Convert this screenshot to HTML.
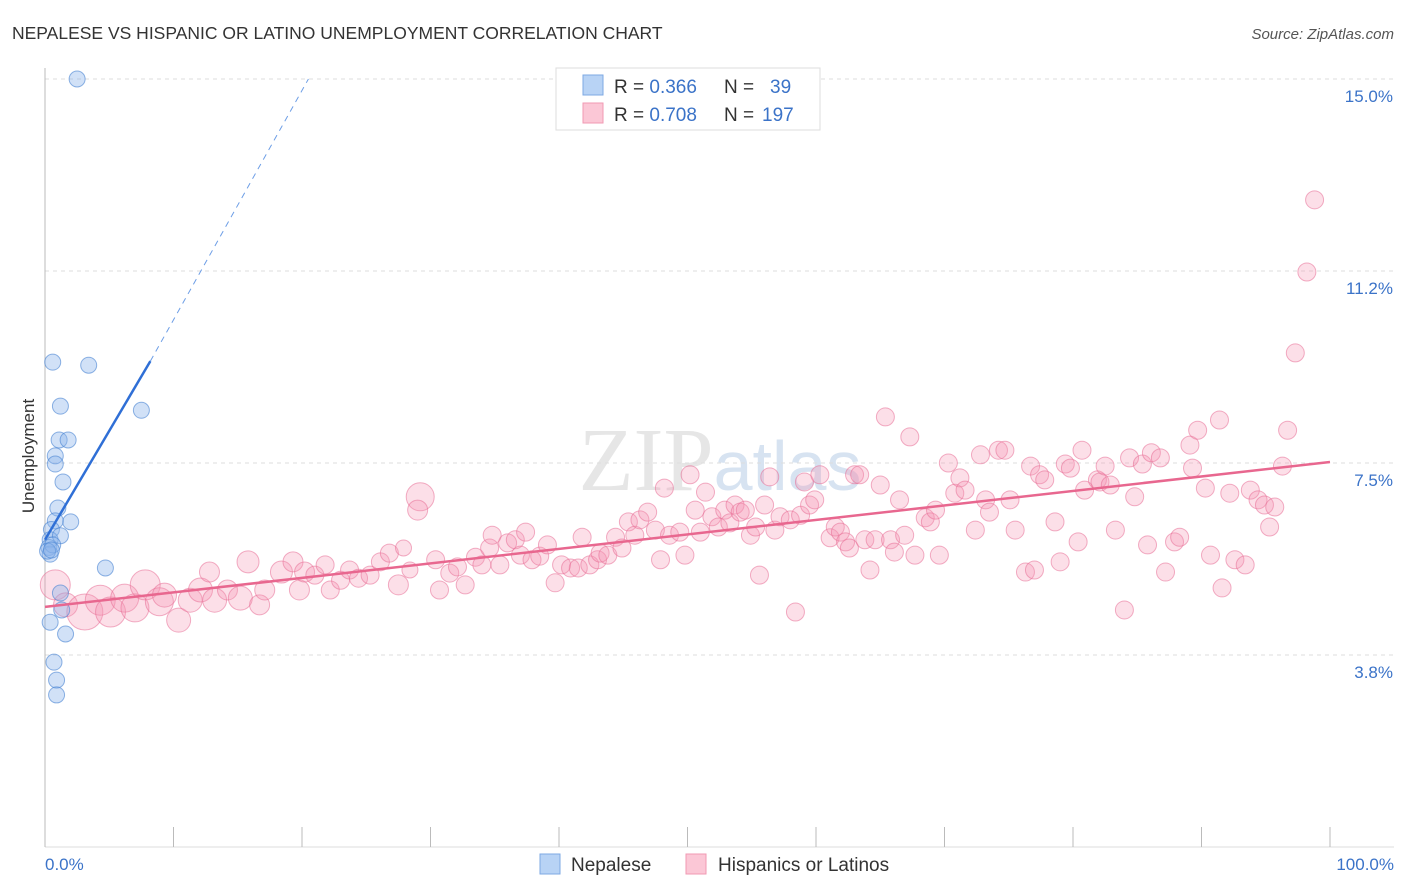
<!DOCTYPE html>
<html><head><meta charset="utf-8"><style>
body{margin:0;background:#fff;font-family:"Liberation Sans",sans-serif;}
svg{display:block}
</style></head><body>
<svg id="chart" width="1406" height="892" xmlns="http://www.w3.org/2000/svg">
<text x="12" y="39" font-size="17.5" fill="#333">NEPALESE VS HISPANIC OR LATINO UNEMPLOYMENT CORRELATION CHART</text>
<text x="1394" y="39" font-size="15" fill="#555" text-anchor="end" font-style="italic">Source: ZipAtlas.com</text>
<text x="720" y="490" font-size="90" fill="#e6e6e6" text-anchor="middle" font-family="Liberation Serif,serif">ZIP<tspan fill="#d7e3f1" font-family="Liberation Sans,sans-serif" font-size="70">atlas</tspan></text>
<g id="grid"></g>
<g id="axes"></g>
<g id="pts"></g>
<g id="lines"></g>
<text transform="translate(34,456) rotate(-90)" font-size="17" fill="#333" text-anchor="middle">Unemployment</text>
<text x="45" y="870" font-size="17" fill="#3b73c8">0.0%</text>
<text x="1394" y="870" font-size="17" fill="#3b73c8" text-anchor="end">100.0%</text>
<g>
<rect x="556" y="68" width="264" height="62" fill="#fff" stroke="#ddd"/>
<rect x="583" y="75" width="20" height="20" fill="#b8d3f5" stroke="#7ea8e3"/>
<rect x="583" y="103" width="20" height="20" fill="#fbc7d6" stroke="#f09ab3"/>
<text x="614" y="93" font-size="19" fill="#333">R = <tspan fill="#3b73c8">0.366</tspan><tspan x="724">N = </tspan><tspan x="770" fill="#3b73c8">39</tspan></text>
<text x="614" y="121" font-size="19" fill="#333">R = <tspan fill="#3b73c8">0.708</tspan><tspan x="724">N = </tspan><tspan x="762" fill="#3b73c8">197</tspan></text>
</g>
<g>
<rect x="540" y="854" width="20" height="20" fill="#b8d3f5" stroke="#7ea8e3"/>
<text x="571" y="871" font-size="19" fill="#333">Nepalese</text>
<rect x="686" y="854" width="20" height="20" fill="#fbc7d6" stroke="#f09ab3"/>
<text x="718" y="871" font-size="19" fill="#333">Hispanics or Latinos</text>
</g>
</svg>
<script>
const yTicks=[15.0,11.25,7.5,3.75];
const yTickLabels=["15.0%","11.2%","7.5%","3.8%"];
const xTicks=[0,10,20,30,40,50,60,70,80,90,100];
const nepX=[2.5,0.6,3.4,1.2,7.5,1.1,1.8,0.8,0.8,1.4,1.0,2.0,0.8,0.5,0.4,0.3,0.4,1.2,0.6,0.2,0.5,4.7,1.2,1.3,0.4,1.6,0.7,0.9,0.9];
const nepY=[15.0,9.47,9.41,8.61,8.53,7.95,7.95,7.64,7.48,7.13,6.62,6.35,6.37,6.2,6.0,5.85,5.72,6.08,5.9,5.78,5.8,5.45,4.96,4.63,4.39,4.16,3.61,3.26,2.97];
const hisX=[0.8,1.6,3.1,4.3,5.1,6.2,7.0,7.8,8.9,9.3,10.4,11.3,12.1,12.8,13.2,14.2,15.2,15.8,16.7,17.1,18.4,19.3,19.8,20.2,21.0,21.8,22.2,23.0,23.7,24.4,25.3,26.1,26.8,27.5,27.9,28.4,29.2,29.0,30.4,30.7,31.5,32.1,32.7,33.5,34.0,34.6,34.8,35.4,36.0,36.6,37.0,37.4,37.9,38.5,39.1,39.7,40.2,40.9,41.5,41.8,42.4,43.0,43.2,43.8,44.4,44.9,45.4,45.9,46.3,46.9,47.5,47.9,48.2,48.6,49.4,49.8,50.2,50.6,51.0,51.4,51.9,52.4,52.9,53.3,53.7,54.1,54.5,54.9,55.3,55.6,56.0,56.4,56.8,57.2,58.0,58.4,58.8,59.1,59.5,59.9,60.3,61.1,61.5,61.9,62.3,62.6,63.0,63.4,63.8,64.2,64.6,65.0,65.4,65.8,66.1,66.5,66.9,67.3,67.7,68.5,68.9,69.3,69.6,70.3,70.8,71.2,71.6,72.4,72.8,73.2,73.5,74.2,74.7,75.1,75.5,76.3,76.7,77.0,77.4,77.8,78.6,79.0,79.4,79.8,80.4,80.7,80.9,81.9,82.1,82.5,82.9,83.3,84.0,84.4,84.8,85.4,85.8,86.1,86.8,87.2,87.9,88.3,89.1,89.3,89.7,90.3,90.7,91.4,91.6,92.2,92.6,93.4,93.8,94.4,94.9,95.3,95.7,96.3,96.7,97.3,98.2,98.8];
const hisY=[5.12,4.73,4.59,4.82,4.59,4.86,4.67,5.12,4.79,4.92,4.43,4.82,5.02,5.37,4.82,5.02,4.86,5.57,4.73,5.02,5.37,5.57,5.02,5.37,5.31,5.51,5.02,5.21,5.41,5.25,5.31,5.57,5.74,5.12,5.84,5.41,6.84,6.58,5.61,5.02,5.35,5.47,5.12,5.66,5.51,5.84,6.09,5.51,5.94,6.0,5.70,6.15,5.61,5.68,5.90,5.16,5.51,5.45,5.45,6.05,5.51,5.61,5.74,5.70,6.05,5.84,6.35,6.09,6.39,6.54,6.19,5.61,7.01,6.09,6.15,5.70,7.27,6.58,6.15,6.93,6.45,6.25,6.58,6.33,6.68,6.54,6.58,6.09,6.25,5.31,6.68,7.23,6.19,6.45,6.39,4.59,6.48,7.13,6.68,6.78,7.27,6.04,6.25,6.15,5.96,5.84,7.27,7.27,6.0,5.41,6.0,7.07,8.40,6.0,5.76,6.78,6.09,8.01,5.70,6.43,6.35,6.58,5.70,7.50,6.91,7.21,6.97,6.19,7.66,6.78,6.54,7.75,7.75,6.78,6.19,5.37,7.44,5.41,7.27,7.17,6.35,5.57,7.48,7.40,5.96,7.75,6.97,7.17,7.13,7.44,7.07,6.19,4.63,7.60,6.84,7.48,5.90,7.70,7.60,5.37,5.96,6.05,7.85,7.40,8.14,7.01,5.70,8.34,5.06,6.91,5.61,5.51,6.97,6.78,6.68,6.25,6.64,7.44,8.14,9.65,11.23,12.64];
const hisW=[15,12,18,15,15,14,14,15,14,12,12,12,12,10,12,10,12,11,10,10,11,10,10,10,9,9,9,9,9,9,9,9,9,10,8,8,14,10];
const nepLine=[0,6.0,8.2,9.49,20.5,15.0];
const hisLine=[0,4.69,100,7.52];
const NS="http://www.w3.org/2000/svg";
const X=v=>45+v*12.85, Y=v=>847-v*51.2;
function mk(tag,attrs,parent){const e=document.createElementNS(NS,tag);for(const k in attrs)e.setAttribute(k,attrs[k]);parent.appendChild(e);return e;}
const grid=document.getElementById('grid'),axes=document.getElementById('axes'),pts=document.getElementById('pts'),lines=document.getElementById('lines');
yTicks.forEach((t,i)=>{
 const l=mk('line',{x1:45,x2:1394,y1:Y(t),y2:Y(t),stroke:'#ddd','stroke-dasharray':'4,4'},grid);
 
 
 const tx=mk('text',{x:1393,y:Y(t)+23,'font-size':17,fill:'#3b73c8','text-anchor':'end'},grid);
 tx.textContent=yTickLabels[i];
 
 
});
const ya=mk('line',{x1:45,x2:45,y1:68,y2:847,stroke:'#bbb'},axes);


const xa=mk('line',{x1:45,x2:1394,y1:847,y2:847,stroke:'#ddd'},axes);


xTicks.forEach(t=>{
 const l=mk('line',{x1:X(t),x2:X(t),y1:827,y2:847,stroke:'#bbb'},axes);
 
 
});
hisX.forEach((x,i)=>{
 const c=mk('circle',{cx:X(x),cy:Y(hisY[i]),r:hisW[i]||9,fill:'rgba(246,150,180,0.3)',stroke:'rgba(232,110,150,0.55)','stroke-width':1},pts);
 
 
});
nepX.forEach((x,i)=>{
 const c=mk('circle',{cx:X(x),cy:Y(nepY[i]),r:8,fill:'rgba(140,180,235,0.4)',stroke:'rgba(70,130,210,0.6)','stroke-width':1},pts);
 
 
});
const nl=mk('line',{x1:X(nepLine[0]),y1:Y(nepLine[1]),x2:X(nepLine[2]),y2:Y(nepLine[3]),stroke:'#2f6fd6','stroke-width':2.5},lines);


const nd=mk('line',{x1:X(nepLine[2]),y1:Y(nepLine[3]),x2:X(nepLine[4]),y2:Y(nepLine[5]),stroke:'#6d9ee6','stroke-width':1,'stroke-dasharray':'6,5'},lines);


const hl=mk('line',{x1:X(hisLine[0]),y1:Y(hisLine[1]),x2:X(hisLine[2]),y2:Y(hisLine[3]),stroke:'#e8678f','stroke-width':2.5},lines);


</script>
</body></html>
